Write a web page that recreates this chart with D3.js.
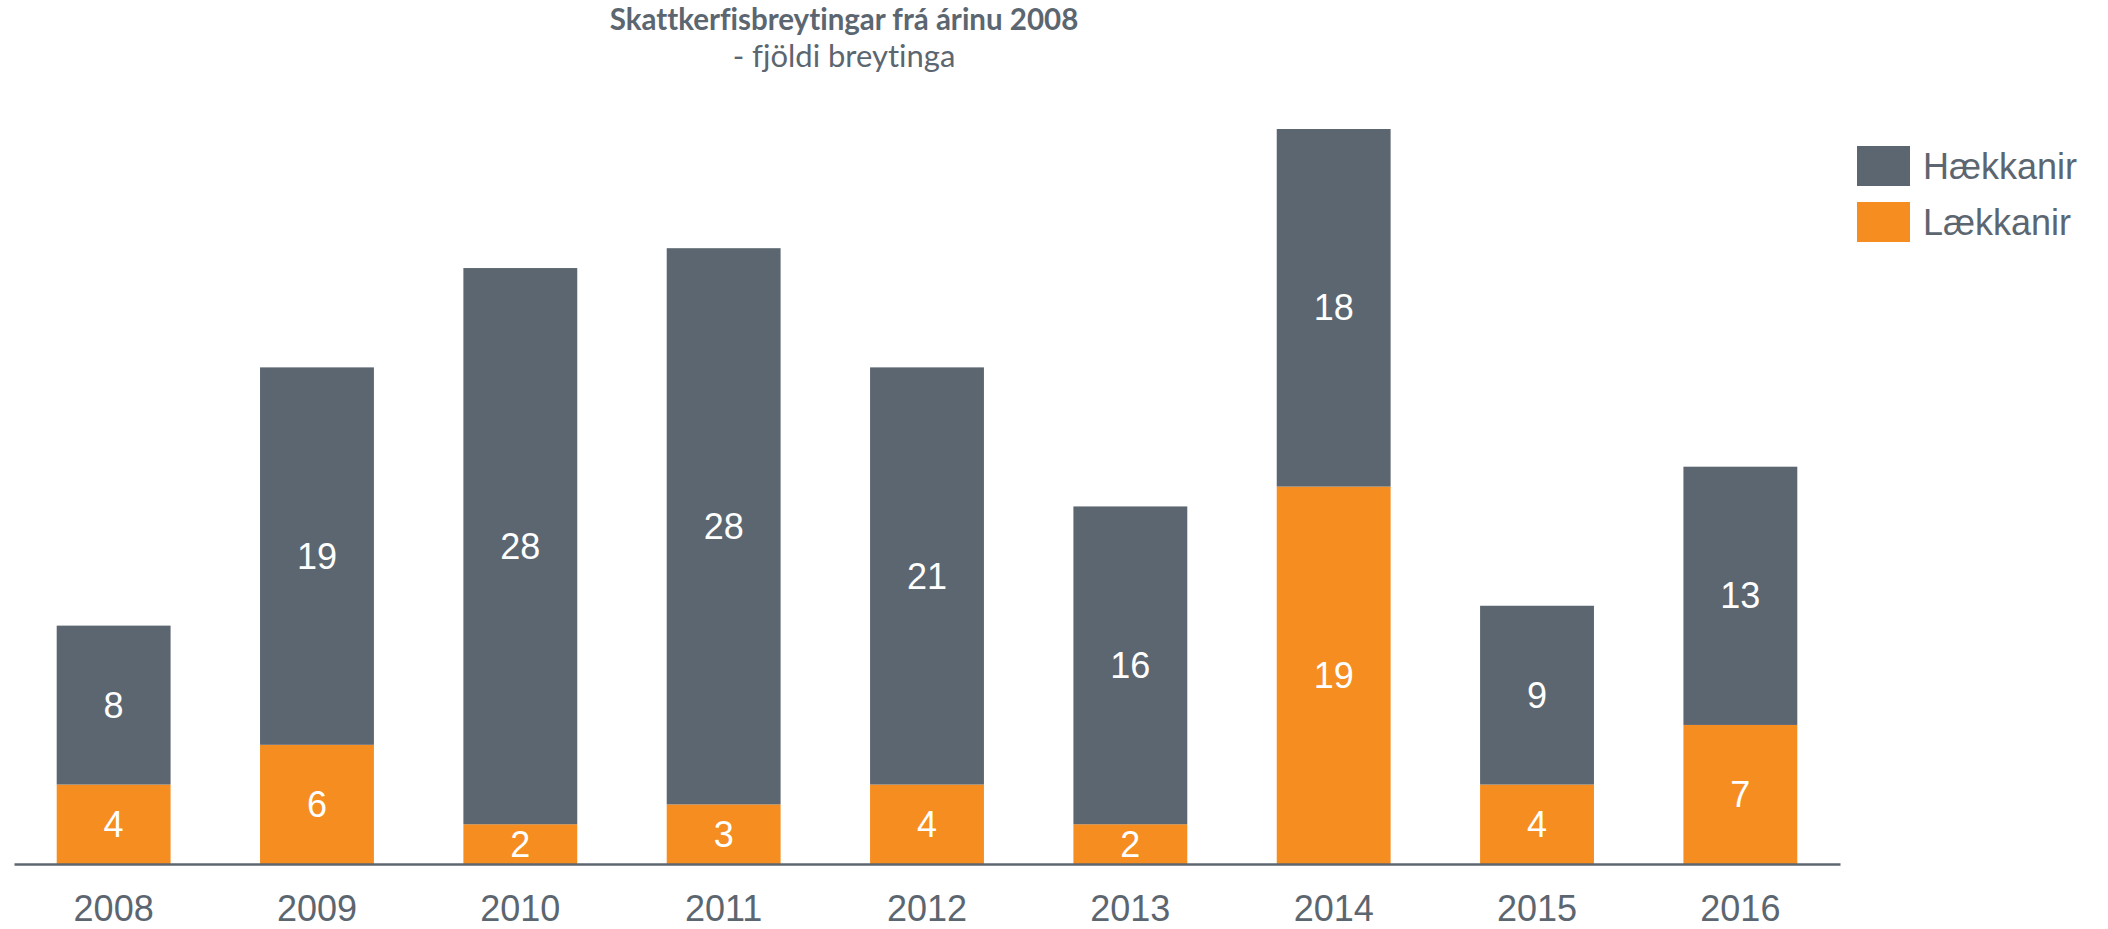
<!DOCTYPE html>
<html>
<head>
<meta charset="utf-8">
<script src="https://cdn.jsdelivr.net/npm/d3@7"></script>
<style>
    body { margin: 0; background: #fff; }
    svg { display: block; }
</style>
</head>
<body>
<svg id="main" width="2108" height="929"></svg>
<script>
const width = 2108;
const height = 929;

// data
const years = ['2008', '2009', '2010', '2011', '2012', '2013', '2014', '2015', '2016'];
const haekkanir = [8, 19, 28, 28, 21, 16, 18, 9, 13];
const laekkanir = [4, 6, 2, 3, 4, 2, 19, 4, 7];
const seriesNames = ['Lækkanir', 'Hækkanir'];
const legendNames = ['Hækkanir', 'Lækkanir'];

const grey = '#5c6670';
const orange = '#f58d21';

const rows = years.map((y, i) => ({
    year: y,
    'Lækkanir': laekkanir[i],
    'Hækkanir': haekkanir[i]
}));

const svg = d3.select('#main');

const x = d3
    .scaleBand()
    .domain(years)
    .range([14, 1840])
    .paddingInner(0.44)
    .paddingOuter(0.21);

const y = d3
    .scaleLinear()
    .domain([0, 37])
    .range([864, 129]);

const color = d3.scaleOrdinal().domain(seriesNames).range([orange, grey]);

const stacked = d3.stack().keys(seriesNames)(rows);

const layers = svg
    .selectAll('g.layer')
    .data(stacked)
    .join('g')
    .attr('class', 'layer')
    .attr('fill', d => color(d.key));

layers
    .selectAll('rect')
    .data(d => d)
    .join('rect')
    .attr('x', d => x(d.data.year))
    .attr('y', d => y(d[1]))
    .attr('width', x.bandwidth())
    .attr('height', d => y(d[0]) - y(d[1]));

// value labels in the middle of each segment
layers
    .selectAll('text')
    .data(d => d)
    .join('text')
    .attr('x', d => x(d.data.year) + x.bandwidth() / 2)
    .attr('y', d => (y(d[0]) + y(d[1])) / 2)
    .attr('dy', '0.35em')
    .attr('text-anchor', 'middle')
    .attr('fill', '#fff')
    .style('font-family', '"Liberation Sans", Arial, sans-serif')
    .style('font-size', '36px')
    .text(d => d[1] - d[0]);

// x axis
const axis = svg
    .append('g')
    .attr('transform', `translate(0, ${y(0)})`)
    .call(d3.axisBottom(x).tickSize(0).tickSizeOuter(0));
axis.select('.domain').attr('stroke', grey).attr('stroke-width', 2.5);
axis
    .selectAll('text')
    .attr('y', 44)
    .attr('dy', '0.35em')
    .attr('fill', grey)
    .style('font-family', '"Liberation Sans", Arial, sans-serif')
    .style('font-size', '36px');

// title
svg.append('text')
    .attr('x', 844)
    .attr('y', 30)
    .attr('text-anchor', 'middle')
    .attr('fill', grey)
    .style('font-family', 'Lato, sans-serif')
    .style('font-weight', 'bold')
    .style('font-size', '29.5px')
    .style('font-variant-ligatures', 'none')
    .text('Skattkerfisbreytingar frá árinu 2008');
svg.append('text')
    .attr('x', 844)
    .attr('y', 67)
    .attr('text-anchor', 'middle')
    .attr('fill', grey)
    .style('font-family', 'Lato, sans-serif')
    .style('font-size', '31px')
    .style('font-variant-ligatures', 'none')
    .text('- fjöldi breytinga');

// legend
const legend = svg
    .selectAll('g.legend')
    .data(legendNames)
    .join('g')
    .attr('class', 'legend')
    .attr('transform', (d, i) => `translate(1857, ${146 + i * 56})`);
legend
    .append('rect')
    .attr('width', 53)
    .attr('height', 40)
    .attr('fill', d => color(d));
legend
    .append('text')
    .attr('x', 66)
    .attr('y', 20)
    .attr('dy', '0.35em')
    .attr('fill', grey)
    .style('font-family', '"Liberation Sans", Arial, sans-serif')
    .style('font-size', '36px')
    .text(d => d);
</script>
</body>
</html>
